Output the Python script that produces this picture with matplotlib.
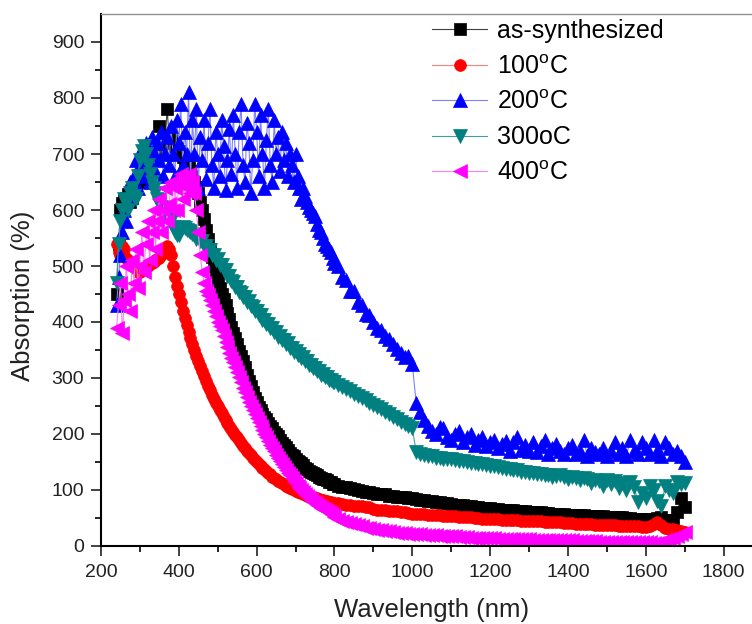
import matplotlib
matplotlib.use("Agg")
import matplotlib.pyplot as plt

plt.rcParams['font.family'] = ['Liberation Sans', 'DejaVu Sans']
plt.rcParams['mathtext.fontset'] = 'custom'
plt.rcParams['mathtext.rm'] = 'Liberation Sans'

# wavelength sampling grids (nm): 5 nm up to 795 nm, 10 nm from 800 nm
wl_a = list(range(240, 796, 5))
wl_b = list(range(800, 1701, 10))

as_synth_a = [450, 540, 600, 612, 618, 622, 628, 615, 622, 632,
              640, 650, 655, 660, 665, 670, 680, 685, 690, 695,
              700, 705, 750, 715, 720, 725, 780, 730, 725, 720,
              715, 710, 705, 700, 695, 690, 685, 678, 670, 660,
              650, 641, 630, 614, 600, 584, 565, 549, 530, 516,
              500, 489, 475, 461, 450, 441, 430, 416, 405, 391,
              380, 371, 360, 349, 340, 331, 320, 306, 295, 286,
              275, 265, 258, 249, 243, 235, 230, 226, 220, 214,
              210, 204, 200, 196, 190, 184, 180, 177, 172, 166,
              163, 161, 156, 152, 150, 148, 144, 140, 138, 134,
              133, 130, 128, 127, 124, 121, 120, 119, 117, 114,
              114, 111]
as_synth_b = [111, 108, 106, 105, 103, 101, 100, 99, 97, 96,
              94, 93, 92, 92, 90, 90, 88, 88, 87, 86,
              85, 84, 83, 82, 81, 80, 79, 78, 77, 76,
              75, 74, 73, 73, 72, 71, 70, 69, 68, 68,
              67, 66, 66, 65, 65, 64, 64, 63, 62, 62,
              61, 61, 60, 60, 59, 59, 58, 58, 57, 57,
              56, 56, 55, 55, 55, 54, 54, 53, 53, 53,
              52, 52, 52, 51, 51, 50, 50, 49, 49, 49,
              48, 48, 48, 50, 52, 47, 46, 45, 60, 85,
              70]

t100_a = [540, 525, 520, 535, 530, 515, 510, 505, 500, 498,
          495, 490, 490, 493, 495, 498, 500, 503, 505, 508,
          510, 512, 515, 520, 525, 528, 535, 530, 520, 500,
          480, 465, 450, 435, 420, 408, 395, 383, 372, 361,
          350, 340, 330, 321, 312, 303, 295, 286, 278, 270,
          263, 256, 250, 243, 237, 231, 225, 219, 214, 209,
          204, 199, 194, 189, 184, 179, 175, 170, 166, 162,
          158, 154, 150, 147, 143, 140, 137, 134, 131, 128,
          124, 121, 119, 116, 114, 112, 110, 108, 106, 104,
          102, 101, 99, 97, 96, 94, 93, 92, 90, 89,
          88, 87, 86, 85, 84, 83, 82, 81, 80, 79,
          78, 77]
t100_b = [77, 76, 75, 74, 73, 72, 71, 71, 70, 69,
          66, 65, 65, 64, 63, 63, 62, 61, 60, 59,
          58, 58, 57, 57, 56, 56, 55, 55, 54, 54,
          53, 53, 52, 52, 51, 51, 50, 50, 49, 49,
          49, 48, 48, 47, 47, 47, 46, 46, 45, 45,
          45, 44, 44, 44, 43, 43, 42, 42, 42, 41,
          41, 41, 40, 40, 40, 39, 39, 38, 38, 38,
          37, 37, 37, 36, 36, 36, 35, 35, 35, 34,
          34, 36, 40, 42, 38, 33, 31, 30, 28, 27,
          25]

t200_a = [430, 480, 520, 560, 600, 580, 620, 650, 630, 660,
          690, 640, 680, 710, 660, 720, 690, 650, 730, 700,
          670, 720, 690, 740, 660, 700, 730, 680, 750, 700,
          660, 760, 720, 790, 680, 740, 700, 810, 650, 760,
          700, 780, 640, 730, 690, 760, 655, 720, 780, 680,
          640, 740, 700, 660, 760, 715, 635, 690, 745, 665,
          770, 700, 640, 740, 790, 680, 650, 755, 720, 630,
          690, 790, 740, 660, 770, 700, 640, 725, 780, 680,
          650, 760, 700, 730, 670, 740, 690, 720, 660, 700,
          680, 650, 700, 660, 640, 620, 640, 625, 615, 605,
          600, 595, 590, 575, 565, 560, 550, 540, 535, 530,
          525, 515]
t200_b = [505, 500, 480, 475, 455, 455, 435, 430, 415, 412,
          400, 390, 385, 375, 370, 360, 352, 345, 338, 340,
          325, 255, 240, 225, 215, 205, 200, 212, 210, 195,
          190, 200, 205, 185, 195, 200, 180, 190, 195, 178,
          185, 190, 175, 182, 188, 170, 185, 195, 172, 180,
          170, 185, 168, 178, 190, 165, 175, 182, 170, 165,
          175, 180, 165, 170, 190, 160, 175, 168, 165, 175,
          160, 170, 185, 165, 175, 160, 190, 170, 165, 185,
          175, 165, 190, 170, 160, 185, 175, 165, 170, 160,
          150]

t300_a = [470, 540, 580, 600, 620, 610, 600, 630, 640, 625,
          620, 660, 690, 705, 715, 700, 680, 665, 650, 640,
          630, 620, 610, 605, 600, 595, 590, 585, 580, 570,
          560, 556, 555, 565, 570, 567, 565, 562, 560, 557,
          555, 548, 552, 544, 545, 535, 536, 528, 528, 519,
          520, 511, 512, 502, 502, 492, 492, 483, 482, 473,
          472, 463, 462, 453, 452, 444, 444, 436, 437, 428,
          427, 419, 420, 412, 412, 404, 404, 396, 397, 389,
          390, 382, 382, 374, 375, 368, 368, 361, 362, 354,
          354, 347, 348, 341, 342, 335, 337, 330, 330, 323,
          324, 317, 318, 312, 313, 306, 308, 301, 302, 296,
          297, 292]
t300_b = [292, 288, 284, 280, 276, 272, 268, 264, 260, 256,
          252, 248, 244, 240, 235, 230, 226, 222, 218, 214,
          210, 168, 165, 162, 160, 160, 158, 157, 156, 155,
          155, 153, 152, 151, 150, 149, 148, 147, 146, 145,
          143, 142, 141, 140, 138, 137, 136, 135, 133, 132,
          131, 130, 129, 128, 127, 126, 124, 125, 126, 123,
          120, 124, 122, 117, 121, 119, 112, 118, 116, 108,
          118, 110, 116, 104, 112, 100, 114, 105, 78, 95,
          85, 108, 100, 80, 72, 108, 100, 95, 115, 110,
          112]

t400_a = [390, 430, 470, 380, 440, 500, 450, 420, 510, 470,
          530, 460, 500, 560, 490, 540, 580, 510, 560, 600,
          530, 580, 620, 560, 600, 640, 580, 610, 650, 600,
          640, 600, 650, 665, 620, 660, 640, 665, 630, 650,
          630, 600, 560, 520, 490, 470, 455, 448, 440, 430,
          420, 410, 400, 392, 385, 375, 365, 355, 345, 336,
          328, 319, 310, 301, 292, 283, 275, 266, 258, 250,
          242, 235, 228, 221, 214, 207, 200, 194, 188, 181,
          175, 169, 163, 157, 152, 146, 141, 136, 131, 126,
          121, 116, 112, 108, 104, 100, 96, 92, 89, 85,
          82, 79, 76, 73, 71, 68, 66, 64, 62, 60,
          58, 56]
t400_b = [51, 48, 45, 43, 41, 39, 37, 35, 33, 32,
          30, 29, 28, 27, 26, 25, 24, 24, 23, 22,
          22, 21, 21, 20, 20, 19, 19, 18, 18, 17,
          17, 17, 16, 16, 16, 15, 15, 15, 14, 14,
          14, 14, 13, 13, 13, 13, 12, 12, 12, 12,
          12, 11, 11, 11, 11, 11, 10, 10, 10, 10,
          10, 10, 9, 9, 9, 9, 9, 9, 8, 8,
          8, 8, 8, 8, 8, 7, 7, 7, 7, 7,
          7, 7, 6, 6, 8, 10, 12, 15, 18, 22,
          25]

labels = ['as-synthesized', '100$^\\mathregular{o}$C', '200$^\\mathregular{o}$C',
          '300oC', '400$^\\mathregular{o}$C']

fig = plt.figure(figsize=(7.52, 6.24), dpi=100)
ax = fig.add_axes([101/752, 1-546/624, 651/752, 532/624])

wl = wl_a + wl_b
series = [
    (as_synth_a + as_synth_b, 's', '#000000', '#404040', 8),
    (t100_a + t100_b, 'o', '#ff0000', '#ff8080', 8.5),
    (t200_a + t200_b, '^', '#0000ff', '#8080ff', 10.5),
    (t300_a + t300_b, 'v', '#008080', '#40a0a0', 10.5),
    (t400_a + t400_b, '<', '#ff00ff', '#ff80ff', 10.5),
]
for (y, m, c, lc, ms), lab in zip(series, labels):
    ax.plot(wl, y, marker=m, color=lc, lw=0.8, ms=ms, mfc=c, mec=c, mew=0.5, label=lab)

ax.set_xlim(200, 1873)
ax.set_ylim(0, 950)
ax.set_xticks(range(200, 1801, 200))
ax.set_xticks(range(300, 1801, 200), minor=True)
ax.set_yticks(range(0, 901, 100))
ax.set_yticks(range(50, 901, 100), minor=True)
ax.tick_params(which='major', direction='out', length=7, width=1.2, labelsize=14, colors='#222222')
ax.tick_params(which='minor', direction='out', length=4, width=1.2)
ax.tick_params(axis='x', pad=6)
ax.tick_params(axis='y', pad=5)
ax.spines['right'].set_visible(False)
ax.spines['top'].set_color('#909090')
ax.spines['top'].set_linewidth(1.0)
ax.spines['left'].set_linewidth(1.5)
ax.spines['bottom'].set_linewidth(1.5)

ax.set_xlabel('Wavelength (nm)', fontsize=18.5, color='#222222')
ax.set_ylabel('Absorption (%)', fontsize=18.5, color='#222222')
ax.xaxis.set_label_coords(0.508, -0.098)
ax.yaxis.set_label_coords(-0.101, 0.47)

leg = fig.legend(loc='upper left', bbox_to_anchor=(432/752, 1-19/624), frameon=False,
                 fontsize=18, handlelength=2.2, handletextpad=0.4, labelspacing=0.46,
                 borderpad=0, borderaxespad=0)

fig.savefig('out.png', dpi=100)
